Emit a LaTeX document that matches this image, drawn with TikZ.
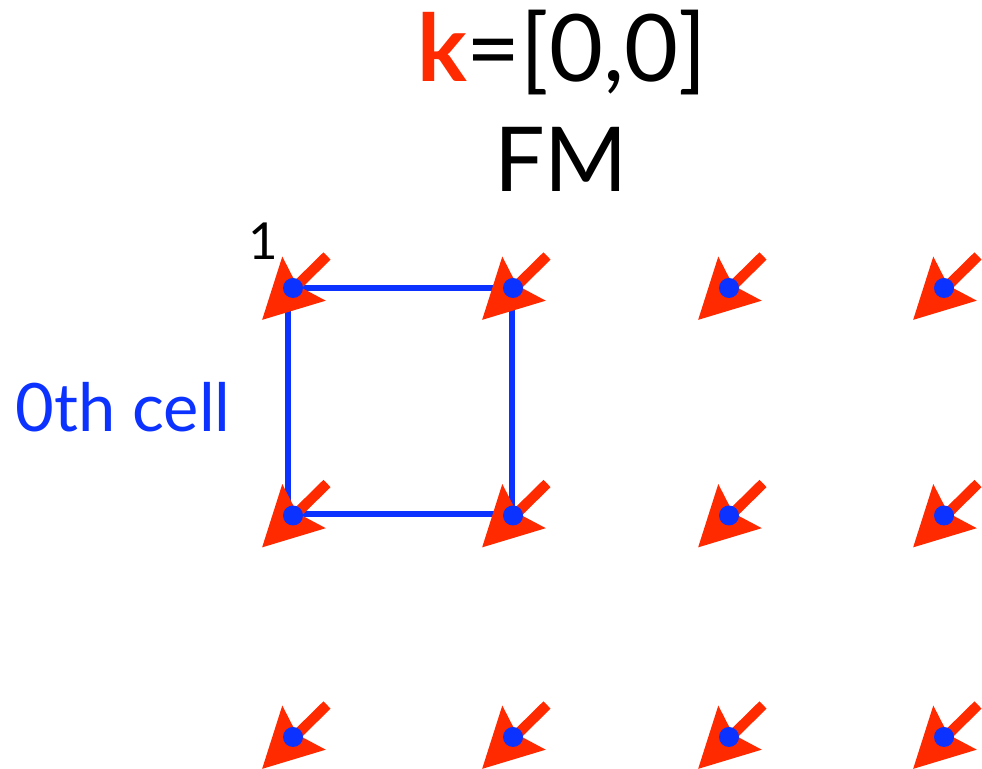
\documentclass[tikz,border=0pt]{standalone}
\usepackage{fontspec}
\setmainfont{Lato}
\usepackage{tikz}
\usetikzlibrary{arrows.meta, calc}
\definecolor{cSpin}{RGB}{255,42,0}
\definecolor{cSite}{RGB}{12,50,255}
\tikzset{
	site/.style   ={circle, fill=cSite, minimum size=0.2cm, inner sep=0pt},
	spin/.style   ={-{Stealth[length=16.5pt, width=17pt, inset=2.5pt]}, draw=cSpin, line width=2.9pt},
	cellbox/.style={draw=cSite, line width=1.45pt},
}
\begin{document}
\begin{tikzpicture}
	\useasboundingbox (0,0) rectangle (9.82,7.69);
	% unit cell
	\draw[cellbox] (2.88,4.81) rectangle (5.12,2.55);
	% lattice sites with spins
	\foreach \i/\x in {1/2.93, 2/5.13, 3/7.29, 4/9.44} {
		\foreach \j/\y in {1/4.81, 2/2.535, 3/0.32} {
			\coordinate (s\i\j) at (\x,\y);
			\draw[spin] ($(s\i\j)+(0.34,0.32)$) -- ($(s\i\j)+(-0.31,-0.32)$);
			\node[site] (d\i\j) at (s\i\j) {};
		}
	}
	% labels
	\node[anchor=base, font=\fontsize{26.5}{30}\selectfont] (title) at (5.62,6.87) {\textcolor{cSpin}{\textbf{k}}=[0,0]};
	\node[anchor=base, font=\fontsize{25.5}{30}\selectfont] (phase) at (5.61,5.77) {FM};
	\node[font=\fontsize{14.5}{16}\selectfont] (num) at (2.63,5.28) {1};
	\node[anchor=base, text=cSite, font=\fontsize{19}{22}\selectfont] (cell) at (1.23,3.37) {0th cell};
\end{tikzpicture}
\end{document}
